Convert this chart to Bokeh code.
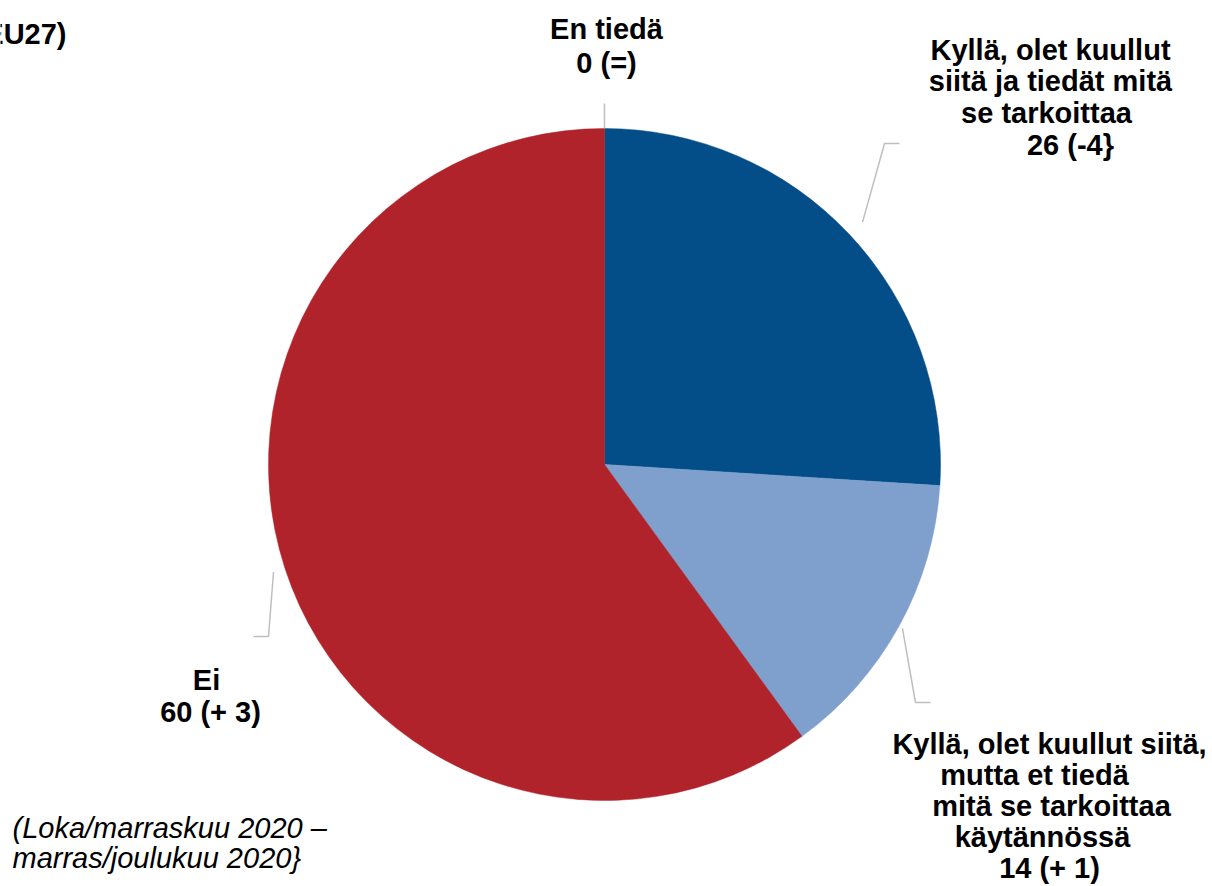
import math
from bokeh.plotting import figure
from bokeh.models import Range1d, ColumnDataSource
from bokeh.embed import file_html
from bokeh.resources import INLINE
from bokeh.core.properties import value

# ---------------- data ----------------
categories = ["Kyllä, tiedät mitä se tarkoittaa",
              "Kyllä, mutta et tiedä mitä se tarkoittaa",
              "Ei",
              "En tiedä"]
values = [26, 14, 60, 0]
changes = ["(-4}", "(+ 1)", "(+ 3)", "(=)"]
label_texts = [
    ["Kyllä, olet kuullut", "siitä ja tiedät mitä", "se tarkoittaa"],
    ["Kyllä, olet kuullut siitä,", "mutta et tiedä", "mitä se tarkoittaa", "käytännössä"],
    ["Ei"],
    ["En tiedä"],
]
colors = ["#034D88", "#7FA0CC", "#B0232A", "#808080"]
corner_title = "(EU27)"
note_lines = ["(Loka/marraskuu 2020 –", "marras/joulukuu 2020}"]

# ---------------- layout (picture pixel coords, y down) ----------------
W, H = 1212, 886
CX, CY, R = 604, 464, 336
FONT = "Liberation Sans"
FS = "29px"
LEAD_COLOR = "#BFBFBF"

label_layout = [
    dict(x=[1050, 1050, 1046, 1070], y=[49, 80, 112, 144]),
    dict(x=[1049, 1034, 1051, 1042, 1049], y=[743, 774, 805, 836, 867]),
    dict(x=[206, 210], y=[679, 711]),
    dict(x=[606, 606], y=[28, 62]),
]
leader_layout = [
    dict(r_off=18, pts=[(884, 143), (899, 143)]),
    dict(r_off=4, pts=[(915, 702), (930, 702)]),
    dict(r_off=12, pts=[(268, 636), (253, 636)]),
    dict(r_off=0, pts=[(604, 103)]),
]


def fy(y):
    return H - y


p = figure(width=W, height=H, output_backend="svg", toolbar_location=None,
           x_range=Range1d(0, W), y_range=Range1d(0, H),
           x_axis_location=None, y_axis_location=None, min_border=0)
p.grid.visible = False
p.outline_line_color = None
p.background_fill_color = "white"
p.border_fill_color = "white"

# ---------------- pie ----------------
total = float(sum(values))
starts, ends, mids = [], [], []
cum = 0.0
for v in values:
    a0 = math.pi / 2 - 2 * math.pi * cum / total
    cum += v
    a1 = math.pi / 2 - 2 * math.pi * cum / total
    starts.append(a0)
    ends.append(a1)
    mids.append((a0 + a1) / 2)

keep = [i for i, v in enumerate(values) if v > 0]
src = ColumnDataSource(dict(
    x=[CX] * len(keep), y=[fy(CY)] * len(keep),
    start=[starts[i] for i in keep], end=[ends[i] for i in keep],
    color=[colors[i] for i in keep],
))
p.wedge(x="x", y="y", radius=R, start_angle="start", end_angle="end",
        direction="clock", fill_color="color", line_color="color",
        line_width=0.5, source=src)

# ---------------- leader lines ----------------
for i, lay in enumerate(leader_layout):
    rr = R + lay["r_off"]
    x0 = CX + rr * math.cos(mids[i])
    y0 = fy(CY) + rr * math.sin(mids[i])
    xs = [x0] + [pt[0] for pt in lay["pts"]]
    ys = [y0] + [fy(pt[1]) for pt in lay["pts"]]
    p.line(xs, ys, line_color=LEAD_COLOR, line_width=1.5)

# ---------------- labels ----------------
for i, lay in enumerate(label_layout):
    lines = label_texts[i] + [f"{values[i]} {changes[i]}"]
    p.text(x=lay["x"], y=[fy(y) for y in lay["y"]], text=lines,
           text_font=value(FONT), text_font_style="bold", text_font_size=FS,
           text_align="center", text_baseline="middle", text_color="black")

p.text(x=[66], y=[fy(33)], text=[corner_title],
       text_font=value(FONT), text_font_style="bold", text_font_size=FS,
       text_align="right", text_baseline="middle", text_color="black")

p.text(x=[12, 12], y=[fy(827), fy(857)], text=note_lines,
       text_font=value(FONT), text_font_style="italic", text_font_size=FS,
       text_align="left", text_baseline="middle", text_color="black")

open("out.html", "w").write(file_html(p, INLINE))
